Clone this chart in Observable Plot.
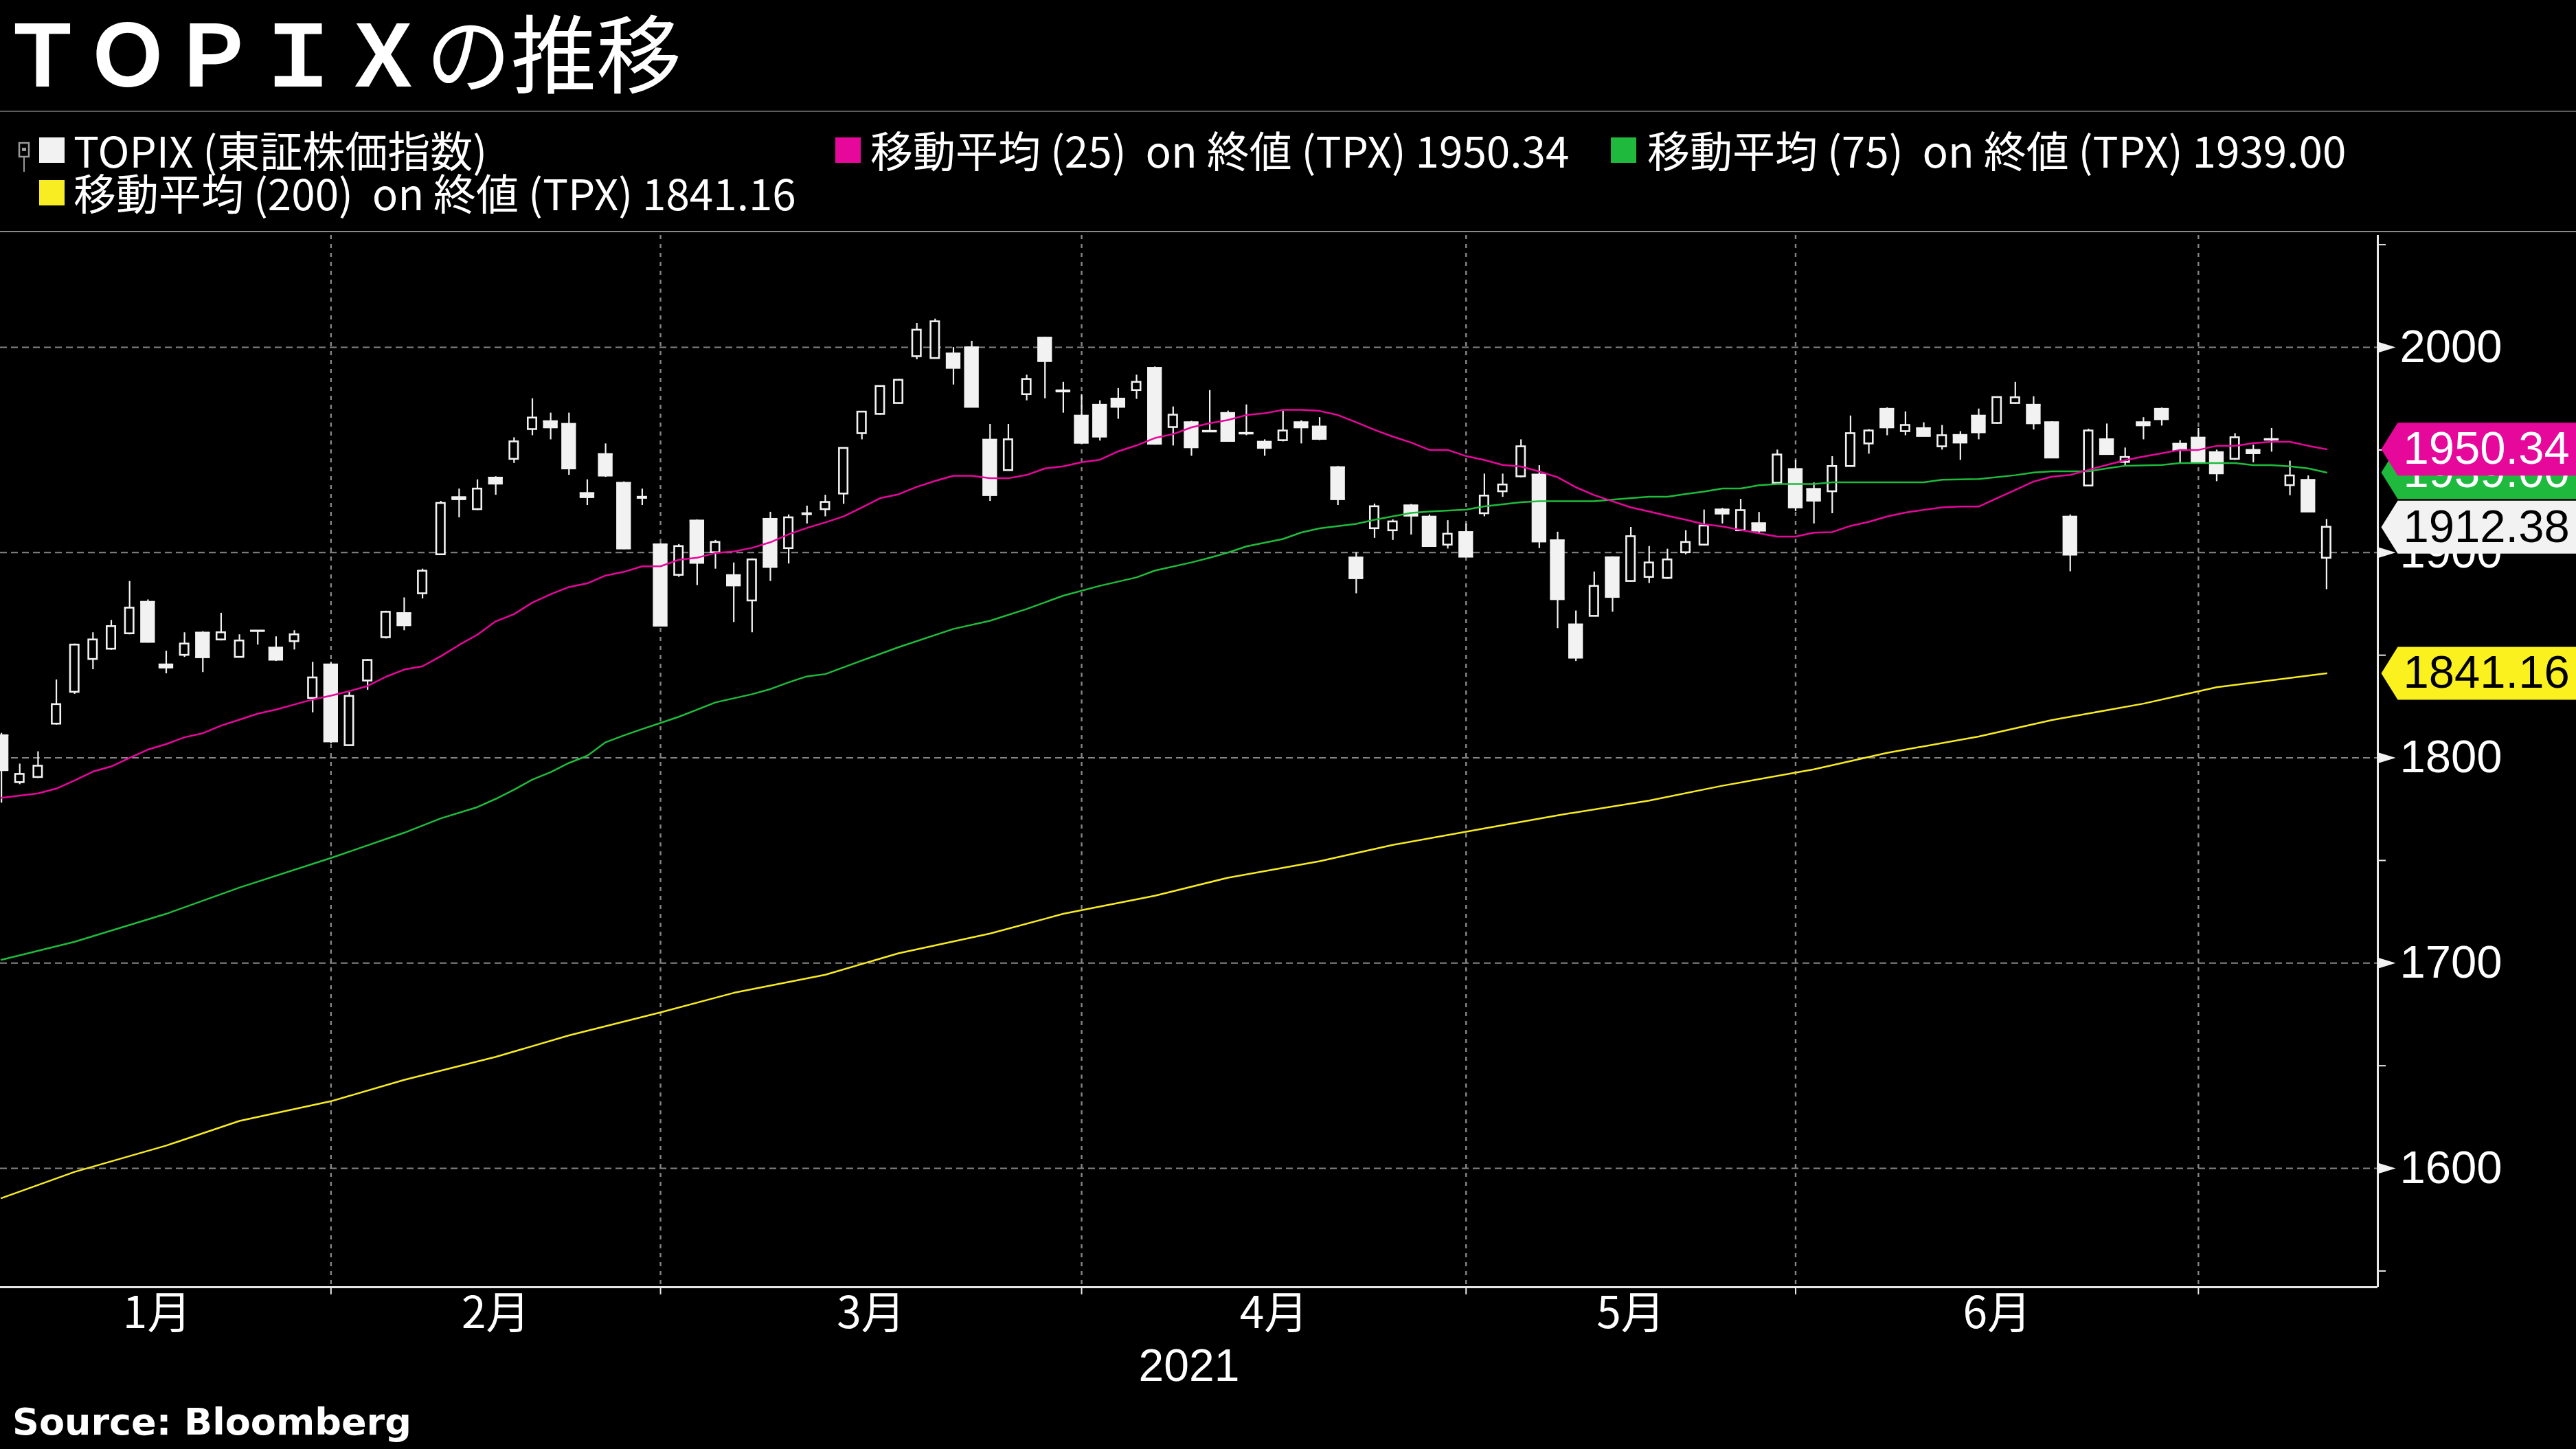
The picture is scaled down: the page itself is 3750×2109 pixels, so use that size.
<!DOCTYPE html>
<html>
<head>
<meta charset="utf-8">
<script src="https://cdn.jsdelivr.net/npm/d3@7"></script>
<script src="https://cdn.jsdelivr.net/npm/@observablehq/plot@0.6"></script>
<style>
  html, body { margin:0; padding:0; background:#000; width:3750px; height:2109px; overflow:hidden; }
  body { position:relative; color:#fff; font-family:"Noto Sans CJK JP","Noto Sans",sans-serif; }
  .abs { position:absolute; white-space:pre; }
  #title { left:0px; top:10px; font-size:124px; line-height:124px; }
  #sep { left:0; top:161px; width:3750px; height:2px; background:#5c5c5c; }
  #top { left:0; top:336px; width:3750px; height:2px; background:#8a8a8a; }
  .sw { position:absolute; width:37px; height:37px; }
  .lt { font-size:62px; line-height:62px; }
  #source { left:18px; top:2043px; font-family:"DejaVu Sans",sans-serif; font-weight:bold; font-size:54px; line-height:54px; }
  #chart { position:absolute; left:0; top:330px; }
</style>
</head>
<body>
<div id="title" class="abs"><span style="font-weight:700">ＴＯＰＩＸ</span><span style="font-weight:400">の推移</span></div>
<div id="sep" class="abs"></div>

<svg class="abs" style="left:24px;top:204px" width="26" height="48">
  <rect x="4" y="4" width="14" height="20" fill="none" stroke="#9a9a9a" stroke-width="2.5"/>
  <line x1="11" y1="24" x2="11" y2="46" stroke="#9a9a9a" stroke-width="2"/>
  <rect x="8" y="11" width="6" height="5" fill="#9a9a9a"/>
</svg>
<div class="sw" style="left:57px;top:200px;background:#f2f2f2"></div>
<div class="abs lt" style="left:107px;top:186px">TOPIX (東証株価指数)</div>
<div class="sw" style="left:1216px;top:200px;background:#e6079b"></div>
<div class="abs lt" style="left:1267px;top:186px">移動平均 (25)  on 終値 (TPX) 1950.34</div>
<div class="sw" style="left:2345px;top:200px;background:#1fb93d"></div>
<div class="abs lt" style="left:2398px;top:186px">移動平均 (75)  on 終値 (TPX) 1939.00</div>
<div class="sw" style="left:57px;top:262px;background:#f8ec22"></div>
<div class="abs lt" style="left:107px;top:248px">移動平均 (200)  on 終値 (TPX) 1841.16</div>

<div id="chart"></div>
<div id="top" class="abs"></div>
<div id="source" class="abs">Source: Bloomberg</div>

<script>
// ---- Data ----
const dates = [
  "2021-01-04","2021-01-05","2021-01-06","2021-01-07","2021-01-08","2021-01-12","2021-01-13","2021-01-14","2021-01-15","2021-01-18","2021-01-19","2021-01-20","2021-01-21","2021-01-22","2021-01-25","2021-01-26","2021-01-27","2021-01-28","2021-01-29",
  "2021-02-01","2021-02-02","2021-02-03","2021-02-04","2021-02-05","2021-02-08","2021-02-09","2021-02-10","2021-02-12","2021-02-15","2021-02-16","2021-02-17","2021-02-18","2021-02-19","2021-02-22","2021-02-24","2021-02-25","2021-02-26",
  "2021-03-01","2021-03-02","2021-03-03","2021-03-04","2021-03-05","2021-03-08","2021-03-09","2021-03-10","2021-03-11","2021-03-12","2021-03-15","2021-03-16","2021-03-17","2021-03-18","2021-03-19","2021-03-22","2021-03-23","2021-03-24","2021-03-25","2021-03-26","2021-03-29","2021-03-30","2021-03-31",
  "2021-04-01","2021-04-02","2021-04-05","2021-04-06","2021-04-07","2021-04-08","2021-04-09","2021-04-12","2021-04-13","2021-04-14","2021-04-15","2021-04-16","2021-04-19","2021-04-20","2021-04-21","2021-04-22","2021-04-23","2021-04-26","2021-04-27","2021-04-28","2021-04-30",
  "2021-05-06","2021-05-07","2021-05-10","2021-05-11","2021-05-12","2021-05-13","2021-05-14","2021-05-17","2021-05-18","2021-05-19","2021-05-20","2021-05-21","2021-05-24","2021-05-25","2021-05-26","2021-05-27","2021-05-28","2021-05-31",
  "2021-06-01","2021-06-02","2021-06-03","2021-06-04","2021-06-07","2021-06-08","2021-06-09","2021-06-10","2021-06-11","2021-06-14","2021-06-15","2021-06-16","2021-06-17","2021-06-18","2021-06-21","2021-06-22","2021-06-23","2021-06-24","2021-06-25","2021-06-28","2021-06-29","2021-06-30",
  "2021-07-01","2021-07-02","2021-07-05","2021-07-06","2021-07-07","2021-07-08","2021-07-09"
];
const open = [
  1811,1788,1790.5,1816.5,1832,1848,1853,1860.5,1876,1845.5,1850,1861,1857.5,1849,1862,1853.7,1856.7,1829,1845.5,
  1806,1837.5,1858.6,1870.5,1880,1899,1927,1921,1936.5,1945.5,1960,1964,1962.7,1929,1948,1934,1926.5,1904,
  1889,1915.6,1900,1889,1876.5,1916.4,1902,1918.5,1921,1928.6,1958,1967.4,1972.7,1995.5,1994.6,1997,2000,1955,1940,1977,2004.7,1979,1966.7,
  1972,1975,1979,1990,1961,1963.5,1959.3,1968,1958.3,1954,1954.6,1963.5,1961.4,1941.6,1897.6,1911.7,1910.7,1923,1917.5,1903.7,1910,
  1919,1929.7,1937,1938,1906,1865,1869,1897.7,1886,1888,1887.5,1900,1903.7,1921,1910.7,1914.3,1933.8,1940.7,
  1931,1929.7,1942,1953,1970,1959,1960.6,1951.6,1957.3,1966.7,1963,1972.7,1972,1963.5,1917.5,1932.5,1955.2,1944,1963.5,1970,1953,1956,
  1948.9,1945.5,1950,1955.3,1932.7,1935.4,1897.3
];
const high = [
  1812,1797,1803,1838,1855.5,1861,1867,1886,1877,1852,1861,1861.5,1870.5,1860,1862,1859,1862,1846.6,1846.6,
  1832,1848,1871.5,1878,1892,1925,1931,1935.5,1937,1956,1975,1968,1968,1935.5,1953,1934.5,1931,1904.5,
  1904,1916,1906,1895,1897,1919.7,1918.4,1922.7,1928,1951,1968.5,1981,1984.4,2011.7,2013.8,2000,2003,1962.5,1962.5,1986.5,2005,1983,1977,
  1974,1980,1986.5,1990.5,1971,1964,1979,1969,1972,1955,1969,1964.3,1965.8,1942,1900,1923.7,1916,1923.5,1918.4,1915.6,1914,
  1938.3,1938.3,1955,1942.4,1910,1871.6,1890.6,1898,1912.3,1903,1901.7,1910.7,1920.8,1921.6,1926,1919.6,1950,1945,
  1934,1946.8,1966.6,1960,1970.6,1968.6,1963.3,1962,1959,1970,1975.6,1983,1976,1963.8,1918.4,1960.2,1962.7,1951,1965.8,1970.5,1954.6,1960.5,
  1950,1958,1952.4,1960.5,1944.6,1937.4,1916.2
];
const low = [
  1778,1787,1790,1816,1831,1843,1852.5,1860,1856,1841,1849,1841.6,1857,1849,1855,1847,1852.6,1822,1807,
  1806,1833,1858,1862,1877.5,1899,1917,1920.5,1928,1943.5,1957,1955,1937.7,1923,1936.7,1901.5,1923,1864,
  1888,1884,1892,1866,1861,1886,1894.5,1914,1917.5,1923.6,1955,1967,1972.4,1994,1994.3,1981.7,1971,1925,1940,1974,1975,1968,1953,
  1954.4,1965,1974.7,1952.4,1952,1947,1958.8,1954,1957,1947,1954,1953,1954.6,1923,1880,1907,1906,1908.6,1903,1901.8,1898,
  1917.5,1927,1936.5,1902,1863,1847,1869,1871,1885.6,1885,1887,1899,1903.4,1914,1910.5,1909,1933.7,1920,
  1914,1919,1942,1948,1957,1957,1956.8,1950,1945,1955,1962.6,1972.3,1959.8,1946,1890.7,1932.2,1948,1942.2,1955,1961.7,1943.5,1943.5,
  1934.6,1945,1943.8,1949,1927.8,1920,1882
];
const close = [
  1794,1792,1796,1826,1855,1857.5,1864,1873,1856.5,1844,1855.5,1849,1861,1857,1861.8,1847.8,1860,1839,1808,
  1830,1847.5,1871,1864.6,1891,1924,1926,1931,1933.6,1954,1965.6,1961,1941,1927,1937.5,1902,1927,1864.4,
  1903,1895,1905,1884,1896.5,1893,1917,1919,1924.5,1950.8,1968.5,1981,1984,2008.4,2012.5,1990,1971,1928,1955,1984.4,1993.3,1978.5,1953.5,
  1956.5,1971,1983,1953,1967,1951.3,1959,1954.4,1958,1951,1959.3,1961,1955.4,1926,1887.5,1922.4,1915,1918,1903.2,1909,1898,
  1927.6,1933,1951.6,1905.4,1877.3,1848.8,1883.6,1878.4,1907.8,1895,1896.5,1905,1913,1919,1920.5,1910.7,1947.6,1922,
  1925.3,1942,1958,1959.3,1961,1962,1956.8,1957,1953.6,1958.6,1975.6,1975.5,1963,1946.3,1899,1959.3,1948,1946.4,1962,1965,1950,1943.8,
  1938.6,1956,1948.4,1955,1937.4,1920,1912.38
];
// 25-day moving average (one value per trading day)
const ma25 = [
  1780.5,1781.6,1782.7,1785,1789,1793.3,1795.8,1800,1804,1806.7,1810,1812,1815.7,1818.6,1821.5,1823.5,1826,1828.4,1830.3,
  1832.5,1835,1839.5,1843,1844.6,1849.5,1855,1860,1866.5,1870,1875.6,1879.7,1883.2,1885,1888.8,1890.6,1893.3,1893.3,
  1896.5,1897.5,1899.8,1900.5,1902.3,1905,1908.9,1912,1914.7,1917.6,1922,1926.5,1928.4,1932,1934.9,1937.4,1937.4,1936.2,1936.2,1937.8,1941,1942,1944,
  1945.2,1949.3,1952.2,1955.8,1957.7,1961,1963,1964.6,1967,1967.9,1969.5,1969.5,1969,1967,1963.5,1959.8,1956.5,1953.6,1950,1950,1947,
  1945.1,1942.7,1941.9,1939.5,1936.7,1931.8,1928,1925,1922,1920,1917.9,1916,1913.8,1912.7,1911,1909.4,1907.8,1907.8,
  1909.7,1910,1913,1915,1917.6,1919.5,1920.8,1922,1922.4,1922.4,1926.5,1930.5,1934.6,1937,1937.8,1940.3,1942.7,1945,1946.8,1948.4,1950,1950,
  1952,1952,1953.3,1954,1954,1952,1950.34
];
// 75-day moving average, sampled (trading-day index, value)
const ma75Idx = [0,4,9,13,18,22,24,26,27,28,29,30,31,32,33,34,35,36,37,38,39,40,41,42,43,44,45,47,49,52,54,56,58,60,62,63,65,66,67,68,70,71,72,74,75,77,78,80,81,83,84,87,89,90,91,92,93,94,95,96,97,99,100,105,106,108,110,111,112,114,115,116,118,119,122,123,124,125,126,127];
const ma75Val = [1701.6,1710.4,1724,1736.8,1751.2,1763.5,1770.5,1776,1780,1784.5,1789.4,1793,1797.5,1801,1807.6,1810.9,1814,1817,1820,1823.5,1827,1829,1831,1833.5,1836.8,1839.7,1840.8,1847.4,1853.9,1862.8,1866.8,1872.5,1879,1883.8,1887.9,1891.2,1895.2,1897.5,1900,1903,1906.6,1909.8,1911.8,1914,1916,1919.3,1920,1920.9,1922.5,1924.5,1925,1925,1926.5,1927.2,1927.2,1928.5,1929.7,1931.2,1931.2,1932.8,1933.4,1933.4,1934.2,1934.2,1935.5,1935.8,1937.7,1939,1939.6,1939.6,1941,1942.3,1942.7,1943.6,1943.6,1942.6,1942.6,1942,1941,1939.0];
// 200-day moving average, sampled
const ma200Idx = [0,4,9,13,18,22,27,31,36,40,45,49,54,58,63,67,72,76,81,85,90,94,99,103,108,112,117,121,127];
const ma200Val = [1585.5,1598.3,1611.1,1623.1,1632.7,1643.1,1654.3,1664.8,1676,1685.5,1694.3,1704.8,1714.4,1724,1732.8,1741.6,1749.6,1757.6,1765.6,1772,1779.2,1786.4,1794.4,1802.4,1810.4,1818.4,1826.4,1834.4,1841.16];

const monthLabels = ["1月","2月","3月","4月","5月","6月"];
const yTicks = [1600,1700,1800,1900,2000];
const yMinorTicks = [1550,1650,1750,1850,1950,2050];
const lastLabels = [
  {name:"ma75",  value:1939.00, text:"1939.00", fill:"#1fb93d", ink:"#ffffff"},
  {name:"ma25",  value:1950.34, text:"1950.34", fill:"#e6079b", ink:"#ffffff"},
  {name:"topix", value:1912.38, text:"1912.38", fill:"#f2f2f2", ink:"#000000"},
  {name:"ma200", value:1841.16, text:"1841.16", fill:"#fbf11f", ink:"#000000"}
];

// ---- Derived tables ----
const candles = dates.map((d, i) => ({i, date:d, open:open[i], high:high[i], low:low[i], close:close[i]}));
const up = candles.filter(d => d.close > d.open);
const down = candles.filter(d => d.close <= d.open);
const ma25Data = ma25.map((v, i) => ({i, v}));
const ma75Data = ma75Idx.map((i, k) => ({i, v: ma75Val[k]}));
const ma200Data = ma200Idx.map((i, k) => ({i, v: ma200Val[k]}));
// last trading day of each month
const monthEnd = dates.map((d, i) => i).filter(i => i < dates.length - 1 && dates[i].slice(5,7) !== dates[i+1].slice(5,7));
const bounds = [-1, ...monthEnd];
const monthMid = monthEnd.map((e, k) => (bounds[k] + e) / 2);

const X0 = -0.06, X1 = 129.8;
const Y0 = 1542.1, Y1 = 2054.56;
const WHITE = "#f2f2f2", GRID = "#858585", AXIS = "#e8e8e8";
const FILLED_HALF = 0.40, HOLLOW_HALF = 0.233;

const triangle = {draw(ctx) { ctx.moveTo(0, -8); ctx.lineTo(26, 0); ctx.lineTo(0, 8); ctx.closePath(); }};
const tagShape = {draw(ctx) { ctx.moveTo(5, 0); ctx.lineTo(29, -38.5); ctx.lineTo(330, -38.5); ctx.lineTo(330, 38.5); ctx.lineTo(29, 38.5); ctx.closePath(); }};

const tagMarks = lastLabels.flatMap(t => [
  Plot.dot([t], {y: "value", frameAnchor: "right", symbol: tagShape, fill: t.fill, stroke: "none"}),
  Plot.text([t], {y: "value", text: "text", frameAnchor: "right", dx: 37, textAnchor: "start", fill: t.ink, fontSize: 67, fontFamily: "Liberation Sans, Arial, sans-serif"})
]);

const chart = Plot.plot({
  width: 3750,
  height: 1700,
  marginLeft: 0,
  marginRight: 289,
  marginTop: 12,
  marginBottom: 157,
  style: {background: "transparent", color: "#fff", fontFamily: "Liberation Sans, Arial, sans-serif", overflow: "visible"},
  x: {domain: [X0, X1], axis: null, label: null},
  y: {domain: [Y0, Y1], axis: null, label: null},
  marks: [
    Plot.ruleY(yTicks, {stroke: GRID, strokeWidth: 2, strokeDasharray: "10,6"}),
    Plot.ruleX(monthEnd, {stroke: GRID, strokeWidth: 2.4, strokeDasharray: "6,7"}),
    // wicks
    Plot.ruleX(candles, {x: "i", y1: "low", y2: "high", stroke: WHITE, strokeWidth: 2.2}),
    // falling days: solid bodies
    Plot.rect(down, {x1: d => d.i - FILLED_HALF, x2: d => d.i + FILLED_HALF, y1: "open", y2: "close", fill: WHITE}),
    Plot.ruleY(down, {y: "open", x1: d => d.i - FILLED_HALF, x2: d => d.i + FILLED_HALF, stroke: WHITE, strokeWidth: 2.6}),
    Plot.ruleY(down, {y: "close", x1: d => d.i - FILLED_HALF, x2: d => d.i + FILLED_HALF, stroke: WHITE, strokeWidth: 2.6}),
    // rising days: hollow bodies
    Plot.rect(up, {x1: d => d.i - HOLLOW_HALF, x2: d => d.i + HOLLOW_HALF, y1: "open", y2: "close", fill: "#000", stroke: WHITE, strokeWidth: 2.6}),
    // moving averages
    Plot.line(ma200Data, {x: "i", y: "v", stroke: "#f8ec22", strokeWidth: 2.5}),
    Plot.line(ma75Data, {x: "i", y: "v", stroke: "#1fbb3d", strokeWidth: 2.5}),
    Plot.line(ma25Data, {x: "i", y: "v", stroke: "#e6079b", strokeWidth: 2.5}),
    // axis lines
    Plot.ruleX([X1], {stroke: AXIS, strokeWidth: 3}),
    Plot.ruleY([Y0], {stroke: AXIS, strokeWidth: 3}),
    // right axis
    Plot.axisY({ticks: yMinorTicks, anchor: "right", tickSize: 11, tickFormat: () => "", color: AXIS, strokeWidth: 2, label: null}),
    Plot.dot(yTicks, {y: d => d, frameAnchor: "right", symbol: triangle, fill: WHITE, stroke: "none"}),
    Plot.axisY({ticks: yTicks, anchor: "right", tickSize: 0, tickPadding: 32, tickFormat: d => String(d), fontSize: 67, color: "#fff", label: null}),
    // bottom axis
    Plot.axisX({ticks: monthEnd, anchor: "bottom", tickSize: 11, tickFormat: () => "", color: AXIS, strokeWidth: 2, label: null}),
    Plot.axisX({ticks: monthMid, anchor: "bottom", tickSize: 0, tickPadding: 14, tickFormat: d => monthLabels[monthMid.indexOf(d)], fontSize: 64, fontFamily: "Noto Sans CJK JP, sans-serif", color: "#fff", label: null}),
    Plot.text(["2021"], {text: d => d, frameAnchor: "bottom", dy: 136, fontSize: 66, fill: "#fff", fontFamily: "Liberation Sans, Arial, sans-serif"}),
    // last-value tags
    ...tagMarks
  ]
});
document.getElementById("chart").appendChild(chart);
</script>
</body>
</html>
